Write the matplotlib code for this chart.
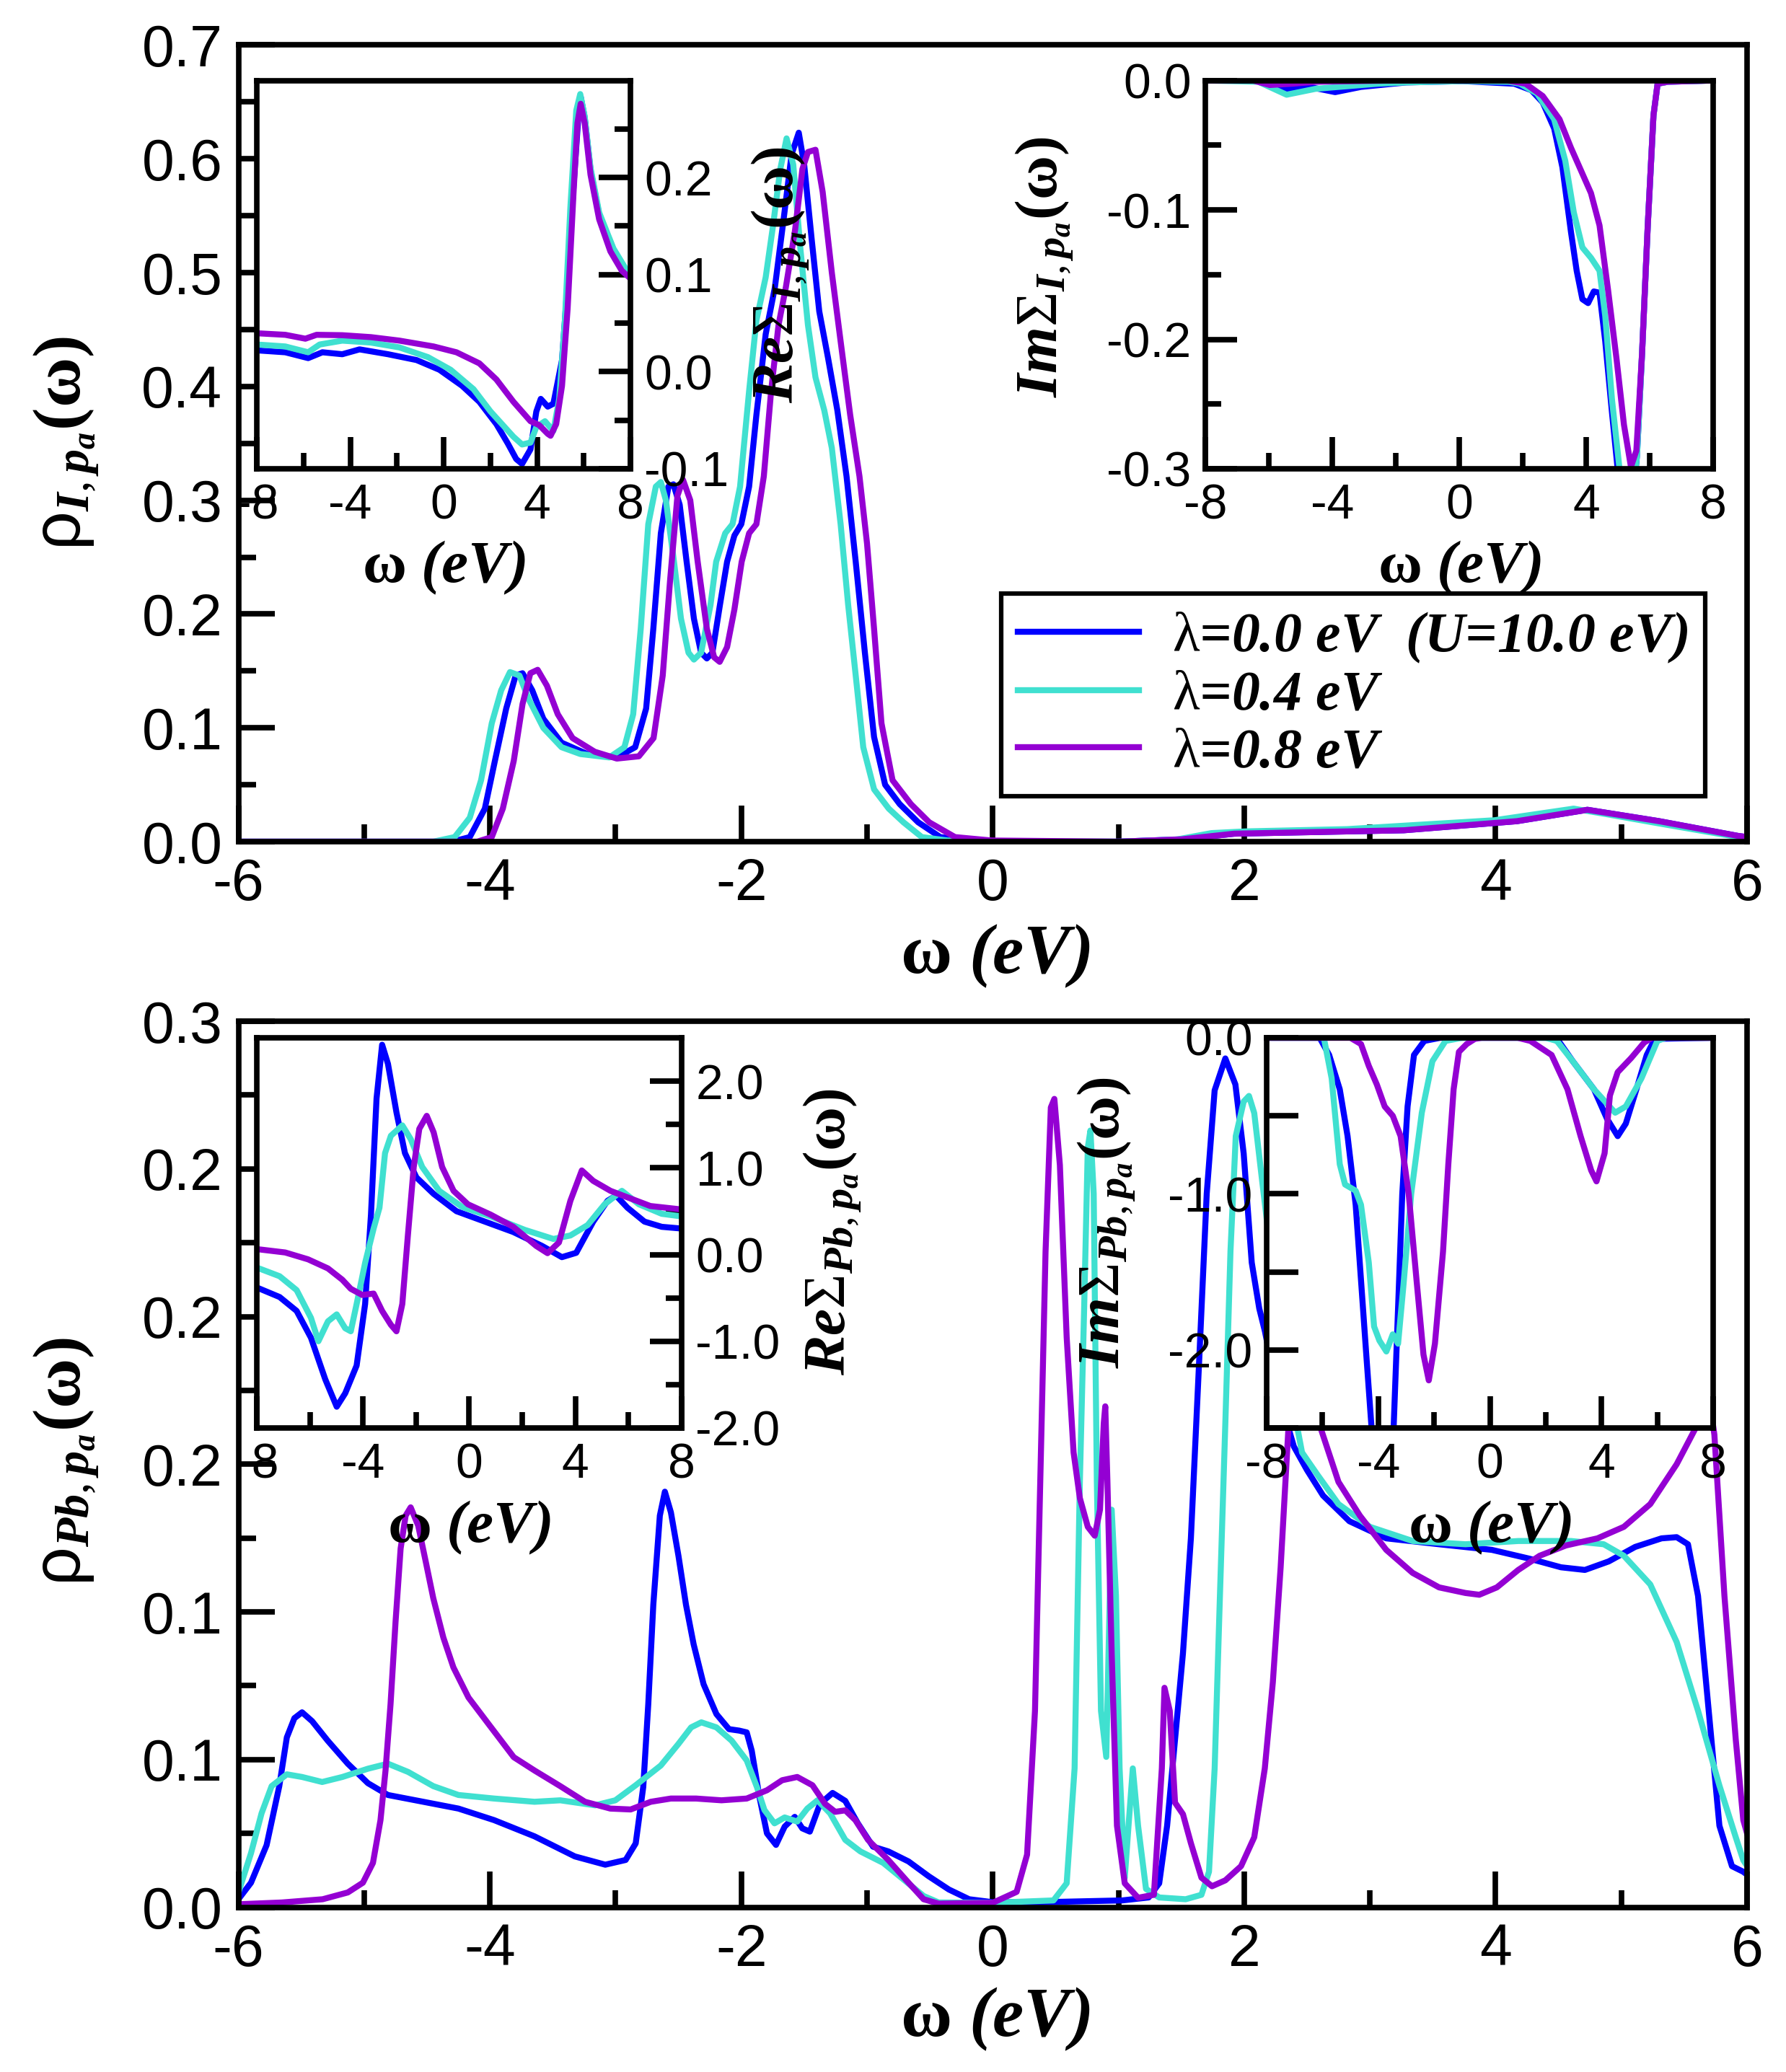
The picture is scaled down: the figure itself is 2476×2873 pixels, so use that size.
import matplotlib
matplotlib.use('Agg')
import matplotlib.pyplot as plt
import numpy as np
from matplotlib.ticker import MultipleLocator, FixedLocator, FormatStrFormatter
from matplotlib.font_manager import FontProperties

plt.rcParams['font.family'] = ['Liberation Sans', 'DejaVu Sans']
plt.rcParams['axes.unicode_minus'] = False
plt.rcParams['mathtext.fontset'] = 'custom'
plt.rcParams['mathtext.rm'] = 'Liberation Serif'
plt.rcParams['mathtext.it'] = 'Liberation Serif:bold:italic'
plt.rcParams['mathtext.bf'] = 'Liberation Serif:bold'
plt.rcParams['mathtext.sf'] = 'Liberation Sans'

# ---------------- data: (omega, value) ----------------
# top panel: rho_I,pa
top_blue = [(-6.0,0),(-4.3,0),(-4.16,0.004),(-4.04,0.029),(-3.96,0.071),(-3.87,0.117),(-3.795,0.146),
            (-3.74,0.148),(-3.663,0.133),(-3.575,0.108),(-3.43,0.087),(-3.225,0.077),(-2.99,0.074),
            (-2.844,0.083),(-2.757,0.117),(-2.70,0.187),(-2.64,0.271),(-2.58,0.312),(-2.54,0.314),
            (-2.49,0.296),(-2.435,0.246),(-2.377,0.196),(-2.32,0.166),(-2.274,0.161),(-2.23,0.166),
            (-2.17,0.208),(-2.113,0.246),(-2.055,0.269),(-2.0,0.279),(-1.938,0.312),(-1.88,0.375),
            (-1.806,0.446),(-1.733,0.487),(-1.66,0.550),(-1.60,0.604),(-1.543,0.623),(-1.50,0.595),
            (-1.44,0.529),(-1.38,0.466),(-1.31,0.425),(-1.236,0.379),(-1.163,0.321),(-1.09,0.246),
            (-1.017,0.166),(-0.944,0.092),(-0.856,0.050),(-0.74,0.033),(-0.593,0.017),(-0.417,0.004),
            (-0.18,0.001),(0.2,0.0),(1.0,0.0),(1.5,0.002),(1.92,0.007),(3.27,0.010),(4.17,0.018),
            (4.73,0.028),(5.3,0.018),(5.93,0.005),(6.0,0.004)]
top_cyan = [(-6.0,0),(-4.45,0),(-4.28,0.004),(-4.16,0.021),(-4.07,0.054),(-3.985,0.104),(-3.91,0.133),
            (-3.84,0.149),(-3.765,0.146),(-3.69,0.125),(-3.575,0.100),(-3.43,0.083),(-3.28,0.077),
            (-3.05,0.074),(-2.93,0.083),(-2.86,0.112),(-2.80,0.187),(-2.74,0.279),(-2.68,0.312),
            (-2.64,0.316),(-2.60,0.300),(-2.54,0.250),(-2.48,0.196),(-2.42,0.166),(-2.377,0.160),
            (-2.32,0.166),(-2.245,0.208),(-2.20,0.246),(-2.128,0.271),(-2.07,0.279),(-2.01,0.312),
            (-1.938,0.396),(-1.88,0.458),(-1.806,0.496),(-1.748,0.541),(-1.69,0.591),(-1.64,0.618),
            (-1.587,0.595),(-1.53,0.521),(-1.47,0.454),(-1.41,0.408),(-1.34,0.379),(-1.28,0.346),
            (-1.21,0.279),(-1.15,0.208),(-1.09,0.146),(-1.03,0.083),(-0.944,0.046),(-0.827,0.029),
            (-0.71,0.017),(-0.564,0.004),(-0.36,0.001),(0.5,0.0),(1.02,0.0),(1.47,0.002),(1.74,0.0075),
            (2.01,0.009),(2.82,0.011),(3.99,0.0188),(4.62,0.029),(4.89,0.024),(5.3,0.016),(5.93,0.004),
            (6.0,0.003)]
top_purple = [(-6.0,0),(-4.1,0),(-3.985,0.004),(-3.897,0.029),(-3.81,0.071),(-3.74,0.121),(-3.678,0.148),
              (-3.62,0.151),(-3.546,0.137),(-3.46,0.112),(-3.342,0.091),(-3.166,0.079),(-2.99,0.073),
              (-2.815,0.075),(-2.698,0.091),(-2.625,0.146),(-2.567,0.229),(-2.508,0.304),(-2.464,0.318),
              (-2.406,0.300),(-2.347,0.246),(-2.274,0.187),(-2.216,0.162),(-2.172,0.158),(-2.113,0.171),
              (-2.055,0.204),(-1.997,0.246),(-1.938,0.271),(-1.88,0.279),(-1.821,0.321),(-1.763,0.396),
              (-1.704,0.454),(-1.646,0.487),(-1.573,0.537),(-1.514,0.591),(-1.47,0.606),(-1.41,0.608),
              (-1.353,0.571),(-1.28,0.500),(-1.207,0.437),(-1.134,0.375),(-1.06,0.321),(-1.0,0.262),
              (-0.944,0.187),(-0.885,0.104),(-0.797,0.054),(-0.651,0.033),(-0.505,0.017),(-0.30,0.004),
              (-0.008,0.001),(1.0,0.0),(1.5,0.002),(1.92,0.007),(3.27,0.010),(4.17,0.018),(4.73,0.028),
              (5.3,0.018),(5.93,0.005),(6.0,0.004)]

# top-left inset: Re Sigma_I,pa
re_i_blue = [(-8,0.022),(-6.78,0.020),(-5.80,0.014),(-5.19,0.020),(-4.34,0.018),(-3.60,0.023),(-2.38,0.018),
             (-1.16,0.012),(-0.18,0.002),(0.79,-0.0145),(1.53,-0.031),(2.26,-0.054),(2.75,-0.074),
             (3.11,-0.090),(3.36,-0.095),(3.72,-0.080),(3.97,-0.041),(4.16,-0.028),(4.46,-0.036),
             (4.70,-0.033),(5.07,0.012),(5.31,0.091),(5.56,0.190),(5.80,0.273),(5.87,0.283),(6.04,0.262),
             (6.29,0.208),(6.66,0.162),(7.27,0.126),(8.0,0.097)]
re_i_cyan = [(-8,0.028),(-6.78,0.026),(-5.80,0.020),(-5.31,0.028),(-4.34,0.032),(-3.11,0.030),(-1.89,0.025),
             (-0.67,0.015),(0.30,0.002),(1.28,-0.018),(2.01,-0.041),(2.50,-0.054),(2.99,-0.067),
             (3.36,-0.075),(3.72,-0.073),(3.97,-0.057),(4.34,-0.051),(4.70,-0.061),(4.95,-0.028),
             (5.19,0.051),(5.43,0.170),(5.68,0.269),(5.85,0.286),(6.04,0.263),(6.29,0.210),(6.66,0.164),
             (7.27,0.127),(8.0,0.098)]
re_i_purple = [(-8,0.0396),(-6.78,0.038),(-5.92,0.034),(-5.44,0.038),(-4.34,0.0376),(-3.11,0.0356),
               (-1.89,0.032),(-0.43,0.026),(0.55,0.020),(1.53,0.0086),(2.26,-0.008),(2.99,-0.031),
               (3.72,-0.051),(4.09,-0.055),(4.46,-0.064),(4.58,-0.066),(4.82,-0.054),(5.07,-0.0145),
               (5.31,0.065),(5.56,0.183),(5.73,0.256),(5.87,0.276),(6.04,0.256),(6.29,0.203),(6.66,0.157),
               (7.14,0.124),(7.63,0.104),(8.0,0.096)]

# top-right inset: Im Sigma_I,pa
im_i_blue = [(-8,0),(-6.3,0),(-5.44,-0.0065),(-4.72,-0.005),(-3.91,-0.009),(-3.1,-0.005),(-1.67,-0.0015),
             (0.12,-0.0005),(1.73,-0.0025),(2.27,-0.0075),(2.63,-0.017),(2.99,-0.037),(3.25,-0.067),
             (3.52,-0.117),(3.70,-0.147),(3.88,-0.169),(4.06,-0.172),(4.24,-0.163),(4.42,-0.164),
             (4.60,-0.2015),(4.81,-0.256),(4.99,-0.30),(5.2,-0.34),(5.4,-0.34),(5.6,-0.29),(5.76,-0.211),
             (5.94,-0.112),(6.12,-0.027),(6.25,-0.0025),(6.57,-0.001),(8,0)]
im_i_cyan = [(-8,0),(-6.33,-0.001),(-5.44,-0.011),(-4.54,-0.0065),(-3.82,-0.005),(-2.57,-0.0025),
             (-1.67,-0.0015),(0.12,-0.0005),(1.55,-0.001),(1.91,-0.0025),(2.45,-0.010),(2.99,-0.030),
             (3.34,-0.062),(3.61,-0.102),(3.88,-0.129),(4.15,-0.137),(4.42,-0.147),(4.60,-0.182),
             (4.81,-0.246),(5.05,-0.30),(5.25,-0.33),(5.42,-0.33),(5.6,-0.29),(5.76,-0.211),(5.94,-0.112),
             (6.12,-0.027),(6.25,-0.0025),(6.57,-0.001),(8,0)]
im_i_purple = [(-8,0),(-6.5,0),(-5.97,-0.0035),(-5.26,-0.0025),(-4.5,-0.001),(-2,0),(1.5,0),(2.09,-0.0025),
               (2.63,-0.012),(3.16,-0.030),(3.52,-0.052),(3.88,-0.072),(4.15,-0.087),(4.42,-0.112),
               (4.69,-0.162),(4.96,-0.216),(5.19,-0.266),(5.41,-0.2985),(5.58,-0.286),(5.76,-0.211),
               (5.94,-0.112),(6.12,-0.027),(6.25,-0.0025),(6.57,-0.001),(8,0)]

# bottom panel: rho_Pb,pa
bot_blue = [(-6.0,0.0027),(-5.90,0.0083),(-5.776,0.021),(-5.675,0.041),(-5.615,0.0575),(-5.555,0.064),
            (-5.494,0.066),(-5.414,0.063),(-5.29,0.0564),(-5.13,0.0486),(-4.97,0.042),(-4.811,0.038),
            (-4.53,0.0357),(-4.25,0.0334),(-3.967,0.0295),(-3.645,0.024),(-3.324,0.0172),(-3.082,0.0144),
            (-2.92,0.016),(-2.84,0.0216),(-2.78,0.0407),(-2.74,0.0688),(-2.70,0.1024),(-2.648,0.1326),
            (-2.608,0.1407),(-2.56,0.1337),(-2.50,0.119),(-2.44,0.1024),(-2.379,0.089),(-2.30,0.0755),
            (-2.198,0.0654),(-2.098,0.0603),(-2.017,0.0598),(-1.957,0.0592),(-1.917,0.053),(-1.856,0.0374),
            (-1.796,0.025),(-1.724,0.0211),(-1.655,0.0273),(-1.575,0.0306),(-1.515,0.0267),(-1.455,0.0256),
            (-1.374,0.035),(-1.274,0.0387),(-1.173,0.036),(-1.073,0.0284),(-0.952,0.0205),(-0.831,0.0189),
            (-0.67,0.0155),(-0.51,0.0105),(-0.349,0.006),(-0.188,0.0027),(0.0,0.0017),(0.40,0.0017),
            (1.03,0.0023),(1.24,0.0033),(1.324,0.0081),(1.387,0.0276),(1.45,0.0568),(1.513,0.086),
            (1.576,0.1249),(1.64,0.1832),(1.702,0.2416),(1.765,0.2766),(1.85,0.2874),(1.93,0.2786),
            (1.996,0.2552),(2.06,0.2183),(2.12,0.2027),(2.165,0.195),(2.26,0.175),(2.354,0.162),
            (2.395,0.156),(2.50,0.148),(2.627,0.1394),(2.837,0.1307),(3.13,0.1249),(3.55,0.1229),
            (3.97,0.121),(4.27,0.118),(4.52,0.1151),(4.71,0.1142),(4.90,0.1171),(5.11,0.122),(5.32,0.1249),
            (5.44,0.1253),(5.53,0.1229),(5.61,0.1054),(5.695,0.0665),(5.78,0.0276),(5.88,0.0139),
            (5.97,0.012),(6.0,0.011)]
bot_cyan = [(-6.0,0.005),(-5.90,0.0183),(-5.816,0.0318),(-5.736,0.041),(-5.615,0.045),(-5.494,0.0441),
            (-5.334,0.0424),(-5.173,0.0441),(-4.97,0.0469),(-4.811,0.0486),(-4.65,0.0458),(-4.45,0.041),
            (-4.25,0.038),(-3.967,0.0368),(-3.645,0.0357),(-3.44,0.0362),(-3.163,0.0345),(-3.002,0.0362),
            (-2.84,0.0413),(-2.64,0.048),(-2.50,0.0553),(-2.399,0.0609),(-2.318,0.0626),(-2.198,0.0609),
            (-2.077,0.0564),(-1.957,0.0497),(-1.876,0.0407),(-1.816,0.0329),(-1.736,0.0284),(-1.655,0.0304),
            (-1.555,0.029),(-1.475,0.0334),(-1.394,0.0362),(-1.294,0.0318),(-1.173,0.0228),(-1.053,0.0189),
            (-0.871,0.015),(-0.71,0.0094),(-0.55,0.0038),(-0.43,0.0016),(0.0,0.0015),(0.483,0.0023),
            (0.588,0.0081),(0.651,0.047),(0.693,0.1443),(0.727,0.2027),(0.756,0.2572),(0.777,0.263),
            (0.803,0.2416),(0.828,0.1443),(0.861,0.0665),(0.903,0.0509),(0.946,0.1346),(0.98,0.1054),
            (1.009,0.047),(1.05,0.01),(1.08,0.0276),(1.114,0.047),(1.156,0.0276),(1.219,0.0062),
            (1.324,0.0033),(1.534,0.0027),(1.66,0.0042),(1.72,0.012),(1.765,0.047),(1.807,0.1054),
            (1.85,0.1638),(1.891,0.2222),(1.933,0.2611),(1.996,0.2728),(2.038,0.2747),(2.08,0.2689),
            (2.144,0.2455),(2.30,0.19),(2.46,0.154),(2.585,0.1463),(2.75,0.1365),(3.0,0.1288),(3.34,0.124),
            (3.76,0.1229),(4.18,0.124),(4.60,0.124),(4.86,0.1229),(5.02,0.119),(5.23,0.1093),(5.44,0.0898),
            (5.61,0.0665),(5.78,0.0412),(5.91,0.0237),(5.97,0.0159),(6.0,0.014)]
bot_purple = [(-6.0,0.001),(-5.655,0.0016),(-5.33,0.0027),(-5.13,0.005),(-5.01,0.0083),(-4.93,0.015),
              (-4.87,0.0295),(-4.83,0.0463),(-4.79,0.0688),(-4.75,0.0968),(-4.71,0.1214),(-4.67,0.1326),
              (-4.63,0.1354),(-4.57,0.1292),(-4.51,0.117),(-4.45,0.1046),(-4.37,0.0913),(-4.29,0.0812),
              (-4.17,0.071),(-4.01,0.062),(-3.81,0.0508),(-3.645,0.0463),(-3.44,0.041),(-3.243,0.0357),
              (-3.042,0.0334),(-2.88,0.0331),(-2.72,0.0357),(-2.56,0.0368),(-2.36,0.0368),(-2.158,0.0362),
              (-1.957,0.0368),(-1.796,0.0396),(-1.675,0.043),(-1.555,0.0441),(-1.434,0.0413),(-1.334,0.035),
              (-1.253,0.0323),(-1.173,0.0328),(-1.093,0.0295),(-0.992,0.0228),(-0.831,0.016),(-0.67,0.0083),
              (-0.55,0.0027),(-0.43,0.0012),(0.0,0.0015),(0.19,0.0052),(0.273,0.0178),(0.336,0.0665),
              (0.378,0.1443),(0.42,0.222),(0.462,0.2708),(0.49,0.2737),(0.534,0.2513),(0.588,0.193),
              (0.643,0.154),(0.693,0.1385),(0.756,0.1288),(0.811,0.1258),(0.853,0.1346),(0.883,0.1638),
              (0.895,0.1696),(0.912,0.1443),(0.946,0.0859),(0.988,0.0276),(1.05,0.0081),(1.156,0.0032),
              (1.282,0.0042),(1.345,0.047),(1.366,0.0743),(1.408,0.0665),(1.45,0.0354),(1.513,0.0315),
              (1.576,0.0217),(1.66,0.01),(1.744,0.0071),(1.85,0.0091),(1.975,0.0139),(2.08,0.0237),
              (2.164,0.047),(2.228,0.0762),(2.29,0.1151),(2.354,0.1638),(2.42,0.19),(2.5,0.195),(2.61,0.162),
              (2.75,0.144),(2.92,0.1326),(3.13,0.121),(3.34,0.1132),(3.55,0.1083),(3.76,0.1064),(3.87,0.1058),
              (4.01,0.1083),(4.18,0.1142),(4.35,0.119),(4.56,0.1225),(4.81,0.1249),(5.02,0.1288),
              (5.23,0.1365),(5.44,0.150),(5.61,0.1638),(5.70,0.172),(5.74,0.16),(5.82,0.1054),(5.91,0.0568),
              (5.97,0.0295),(6.0,0.025)]

# bottom-left inset: Re Sigma_Pb,pa
re_pb_blue = [(-8,-0.38),(-7.14,-0.49),(-6.50,-0.65),(-5.96,-0.96),(-5.42,-1.44),(-4.99,-1.755),(-4.67,-1.60),
              (-4.24,-1.28),(-3.92,-0.57),(-3.70,0.46),(-3.49,1.80),(-3.28,2.42),(-3.06,2.20),(-2.74,1.64),
              (-2.42,1.17),(-1.99,0.89),(-1.34,0.70),(-0.48,0.50),(0.59,0.38),(1.66,0.26),(2.74,0.10),
              (3.49,-0.03),(4.03,0.02),(4.67,0.38),(5.21,0.62),(5.53,0.68),(5.96,0.54),(6.60,0.38),
              (7.25,0.32),(8.0,0.30)]
re_pb_cyan = [(-8,-0.15),(-7.14,-0.25),(-6.50,-0.41),(-5.96,-0.73),(-5.68,-1.0),(-5.32,-0.77),(-4.99,-0.69),
              (-4.67,-0.85),(-4.46,-0.885),(-4.24,-0.57),(-3.92,-0.095),(-3.60,0.30),(-3.38,0.54),
              (-3.17,1.17),(-2.95,1.37),(-2.52,1.49),(-2.20,1.33),(-1.77,1.01),(-1.13,0.735),(-0.27,0.55),
              (0.81,0.44),(2.09,0.285),(3.17,0.18),(3.81,0.22),(4.46,0.34),(5.10,0.58),(5.75,0.735),
              (6.39,0.58),(7.25,0.47),(8.0,0.44)]
re_pb_purple = [(-8,0.063),(-6.93,0.024),(-6.07,-0.055),(-5.32,-0.16),(-4.78,-0.29),(-4.46,-0.395),
                (-4.03,-0.466),(-3.60,-0.45),(-3.28,-0.65),(-2.95,-0.81),(-2.74,-0.885),(-2.52,-0.57),
                (-2.31,0.22),(-2.09,1.01),(-1.88,1.45),(-1.60,1.60),(-1.34,1.41),(-1.02,1.01),(-0.59,0.735),
                (-0.05,0.58),(0.81,0.46),(1.66,0.32),(2.52,0.10),(2.95,0.016),(3.38,0.14),(3.81,0.62),
                (4.24,0.97),(4.67,0.85),(5.32,0.735),(5.96,0.66),(6.82,0.56),(8.0,0.52)]

# bottom-right inset: Im Sigma_Pb,pa
im_pb_blue = [(-8,0),(-6.1,0),(-5.76,-0.11),(-5.38,-0.33),(-5.10,-0.63),(-4.81,-1.07),(-4.62,-1.55),
              (-4.43,-2.03),(-4.24,-2.50),(-3.85,-3.0),(-3.45,-2.5),(-3.29,-1.73),(-3.14,-1.0),(-2.95,-0.44),
              (-2.72,-0.11),(-2.35,-0.02),(-1.78,0),(2.21,0),(2.5,-0.03),(2.97,-0.15),(3.73,-0.33),
              (4.20,-0.52),(4.58,-0.63),(4.87,-0.55),(5.25,-0.33),(5.62,-0.11),(5.91,-0.007),(8,0)]
im_pb_cyan = [(-8,0),(-5.95,0),(-5.67,-0.26),(-5.38,-0.81),(-5.19,-0.94),(-4.81,-0.98),(-4.62,-1.07),
              (-4.34,-1.44),(-4.15,-1.85),(-3.96,-1.94),(-3.71,-2.01),(-3.48,-1.90),(-3.29,-1.96),
              (-3.10,-1.59),(-2.82,-1.0),(-2.44,-0.48),(-2.06,-0.15),(-1.59,-0.02),(-1.0,0),(2.0,0),
              (2.40,-0.02),(2.97,-0.15),(3.73,-0.33),(4.49,-0.48),(4.87,-0.44),(5.43,-0.26),(6.0,-0.02),
              (6.3,0),(8,0)]
im_pb_purple = [(-8,0),(-5.0,0),(-4.62,-0.04),(-4.34,-0.18),(-4.05,-0.30),(-3.77,-0.44),(-3.48,-0.50),
                (-3.20,-0.63),(-2.91,-1.0),(-2.63,-1.55),(-2.38,-2.03),(-2.19,-2.195),(-1.97,-1.96),
                (-1.68,-1.37),(-1.49,-0.81),(-1.30,-0.33),(-1.11,-0.09),(-0.83,-0.04),(-0.54,-0.007),
                (-0.3,0),(1.0,0),(1.45,-0.02),(2.21,-0.11),(2.78,-0.33),(3.25,-0.63),(3.63,-0.85),
                (3.82,-0.92),(4.11,-0.74),(4.30,-0.37),(4.58,-0.22),(5.06,-0.13),(5.53,-0.03),(5.81,0),(8,0)]

legend_labels = [r'$\mathrm{\lambda}$=0.0 eV  (U=10.0 eV)', r'$\mathrm{\lambda}$=0.4 eV',
                 r'$\mathrm{\lambda}$=0.8 eV']
bot_ytick_labels = ['0.0', '0.1', '0.1', '0.2', '0.2', '0.2', '0.3']
br_ytick_labels = ['0.0', '', '-1.0', '', '-2.0', '']
xlabel_text = r'$\mathbf{\omega}$ (eV)'

colors = ['#0000ff', '#40e0d0', '#9400d3']
LW = 6.0
SPW = 5.5
serif_bi = dict(family='Liberation Serif', weight='bold', style='italic')

fig = plt.figure(figsize=(24.76, 28.73), dpi=100)


def style_main(ax):
    for s in ax.spines.values():
        s.set_linewidth(SPW)
    ax.tick_params(which='both', direction='in', top=False, right=False, width=SPW,
                   labelsize=58, pad=16)
    ax.tick_params(which='major', length=36)
    ax.tick_params(which='minor', length=17)
    ax.set_xlim(-6, 6)
    ax.xaxis.set_major_locator(MultipleLocator(2))
    ax.xaxis.set_minor_locator(MultipleLocator(1))
    ax.xaxis.set_major_formatter(FormatStrFormatter('%d'))


def style_inset(ax, side):
    for s in ax.spines.values():
        s.set_linewidth(SPW)
    ax.tick_params(which='both', direction='in', top=False, width=SPW, labelsize=49, pad=14)
    if side == 'right':
        ax.tick_params(axis='y', which='both', left=False, right=True, labelleft=False, labelright=True)
    else:
        ax.tick_params(axis='y', which='both', left=True, right=False)
    ax.tick_params(which='major', length=32)
    ax.tick_params(which='minor', length=16)
    ax.set_xlim(-8, 8)
    ax.xaxis.set_major_locator(MultipleLocator(4))
    ax.xaxis.set_minor_locator(MultipleLocator(2))
    ax.xaxis.set_major_formatter(FormatStrFormatter('%d'))
    ax.text(0.5, -0.255, xlabel_text, transform=ax.transAxes, ha='center', va='center',
            fontsize=60, **serif_bi)


def draw(ax, series):
    out = []
    for data, c in zip(series, colors):
        w, v = np.array(data).T
        out += ax.plot(w, v, color=c, lw=LW)
    return out


# ---------------- top panel ----------------
ax1 = fig.add_axes([0.1335, 0.5938, 0.8447, 0.38445])
lines = draw(ax1, [top_blue, top_cyan, top_purple])
style_main(ax1)
ax1.set_ylim(0, 0.7)
ax1.yaxis.set_major_locator(MultipleLocator(0.1))
ax1.yaxis.set_minor_locator(MultipleLocator(0.05))
ax1.yaxis.set_major_formatter(FormatStrFormatter('%.1f'))
ax1.text(-0.114, 0.50, r'$\mathsf{\rho}_{I,p_a}\mathbf{(\omega)}$', transform=ax1.transAxes,
         rotation=90, ha='center', va='center', fontsize=68)
ax1.text(0.502, -0.144, xlabel_text, transform=ax1.transAxes, ha='center', va='center',
         fontsize=70, **serif_bi)
leg = ax1.legend(lines, legend_labels, loc='upper left', bbox_to_anchor=(0.5056, 0.3115),
                 borderaxespad=0, fancybox=False, framealpha=1, edgecolor='black',
                 prop=FontProperties(size=56, **serif_bi), handlelength=2.15, handletextpad=0.6,
                 labelspacing=0.1, borderpad=0.3)
leg.get_frame().set_linewidth(4.5)

ins1 = fig.add_axes([0.14378, 0.77376, 0.20921, 0.1874])
draw(ins1, [re_i_blue, re_i_cyan, re_i_purple])
style_inset(ins1, 'right')
ins1.set_ylim(-0.1, 0.3)
ins1.yaxis.set_major_locator(FixedLocator([-0.1, 0.0, 0.1, 0.2]))
ins1.yaxis.set_minor_locator(FixedLocator([-0.05, 0.05, 0.15, 0.25]))
ins1.yaxis.set_major_formatter(FormatStrFormatter('%.1f'))
ins1.text(1.40, 0.50, r'$Re\mathit{\Sigma}_{I,p_a}\mathbf{(\omega)}$', transform=ins1.transAxes,
          rotation=90, ha='center', va='center', fontsize=60)

ins2 = fig.add_axes([0.67488, 0.77376, 0.28433, 0.1874])
draw(ins2, [im_i_blue, im_i_cyan, im_i_purple])
style_inset(ins2, 'left')
ins2.set_ylim(-0.3, 0.0)
ins2.yaxis.set_major_locator(MultipleLocator(0.1))
ins2.yaxis.set_minor_locator(MultipleLocator(0.05))
ins2.yaxis.set_major_formatter(FormatStrFormatter('%.1f'))
ins2.text(-0.318, 0.52, r'$Im\mathit{\Sigma}_{I,p_a}\mathbf{(\omega)}$', transform=ins2.transAxes,
          rotation=90, ha='center', va='center', fontsize=60)

# ---------------- bottom panel ----------------
ax2 = fig.add_axes([0.1335, 0.07953, 0.8447, 0.4276])
draw(ax2, [bot_blue, bot_cyan, bot_purple])
style_main(ax2)
ax2.set_ylim(0, 0.3)
ax2.yaxis.set_major_locator(FixedLocator([0, 0.05, 0.1, 0.15, 0.2, 0.25, 0.3]))
ax2.yaxis.set_minor_locator(MultipleLocator(0.025))
ax2.set_yticklabels(bot_ytick_labels)
ax2.text(-0.114, 0.503, r'$\mathsf{\rho}_{Pb,p_a}\mathbf{(\omega)}$', transform=ax2.transAxes,
         rotation=90, ha='center', va='center', fontsize=68)
ax2.text(0.502, -0.126, xlabel_text, transform=ax2.transAxes, ha='center', va='center',
         fontsize=70, **serif_bi)

ins3 = fig.add_axes([0.14378, 0.31083, 0.23788, 0.1883])
draw(ins3, [re_pb_blue, re_pb_cyan, re_pb_purple])
style_inset(ins3, 'right')
ins3.set_ylim(-2.0, 2.5)
ins3.yaxis.set_major_locator(FixedLocator([-2.0, -1.0, 0.0, 1.0, 2.0]))
ins3.yaxis.set_minor_locator(FixedLocator([-1.5, -0.5, 0.5, 1.5]))
ins3.yaxis.set_major_formatter(FormatStrFormatter('%.1f'))
ins3.text(1.355, 0.503, r'$Re\mathit{\Sigma}_{Pb,p_a}\mathbf{(\omega)}$', transform=ins3.transAxes,
          rotation=90, ha='center', va='center', fontsize=60)

ins4 = fig.add_axes([0.70921, 0.31083, 0.25, 0.1883])
draw(ins4, [im_pb_blue, im_pb_cyan, im_pb_purple])
style_inset(ins4, 'left')
ins4.set_ylim(-2.5, 0.0)
ins4.yaxis.set_major_locator(FixedLocator([0.0, -0.5, -1.0, -1.5, -2.0, -2.5]))
ins4.set_yticklabels(br_ytick_labels)
ins4.text(-0.36, 0.527, r'$Im\mathit{\Sigma}_{Pb,p_a}\mathbf{(\omega)}$', transform=ins4.transAxes,
          rotation=90, ha='center', va='center', fontsize=60)

fig.savefig('out.png', dpi=100)
